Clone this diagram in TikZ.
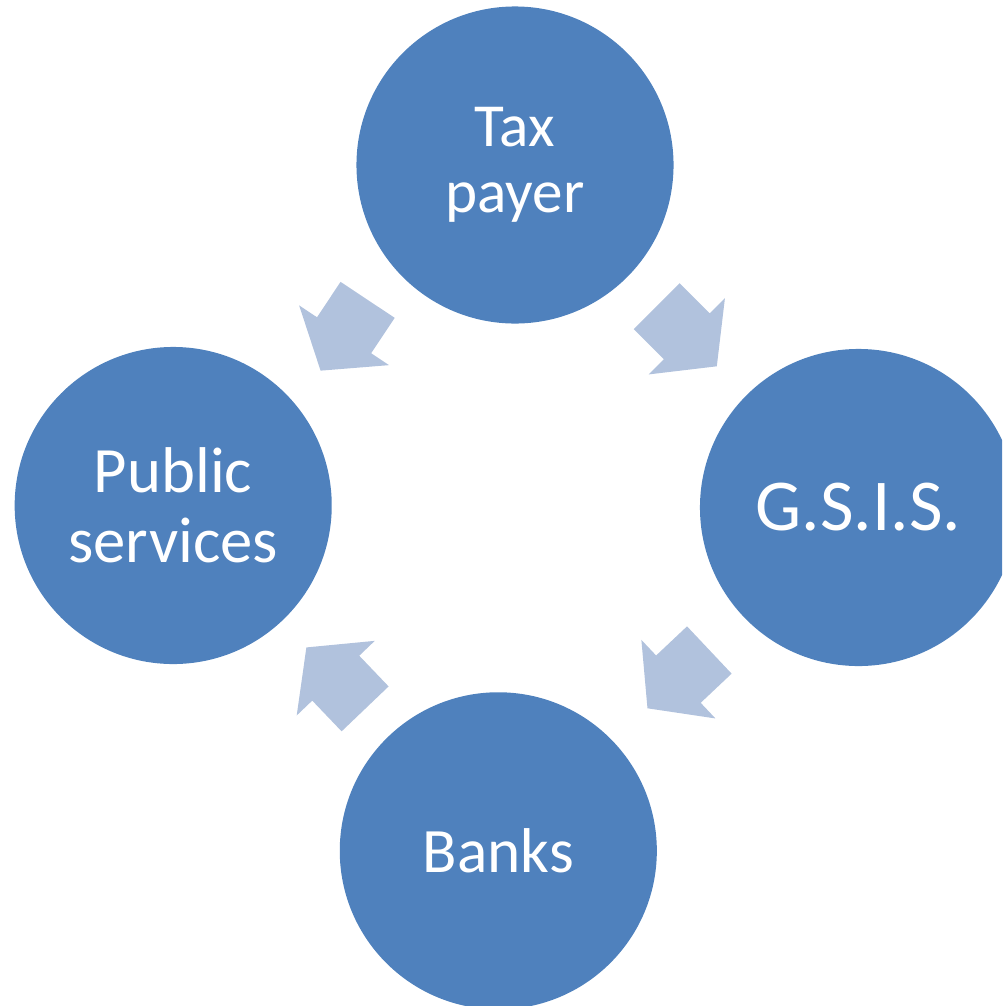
\documentclass[tikz,border=0pt]{standalone}
\usepackage{fontspec}
\setmainfont{Carlito}
\usetikzlibrary{calc}
\definecolor{circblue}{HTML}{4F81BD}
\definecolor{arrowblue}{HTML}{B1C2DD}
\begin{document}
\begin{tikzpicture}[
    x=0.025cm, y=-0.025cm,
    party/.style={circle, fill=circblue, text=white,
      minimum size=7.925cm, inner sep=0pt, align=center},
    flow/.style={fill=arrowblue},
  ]
  \useasboundingbox (0,0) rectangle (1002,1006);
  \clip (0,0) rectangle (1002,1006);

  \node[party, font=\fontsize{43.5}{47}\selectfont] (tax) at (515,165) {Tax\\payer};
  \node[party, font=\fontsize{52}{56}\selectfont] (gsis) at (858.5,507.5) {G.S.I.S.};
  \node[party, font=\fontsize{45}{49}\selectfont] (banks) at (498.3,850.8) {Banks};
  \node[party, font=\fontsize{46}{50}\selectfont] (pub) at (173.2,505.5) {Public\\services};

  % block arrows half way between the circles
  \foreach \a/\b/\ang in {tax/pub/236.4, tax/gsis/-45, gsis/banks/223.3, banks/pub/133.7} {
    \fill[flow, shift={($(\a)!0.5!(\b)$)}, rotate=\ang]
      (-42.5,-32.5) -- (0,-32.5) -- (0,-54) -- (42.5,0)
      -- (0,54) -- (0,32.5) -- (-42.5,32.5) -- cycle;
  }
\end{tikzpicture}
\end{document}
